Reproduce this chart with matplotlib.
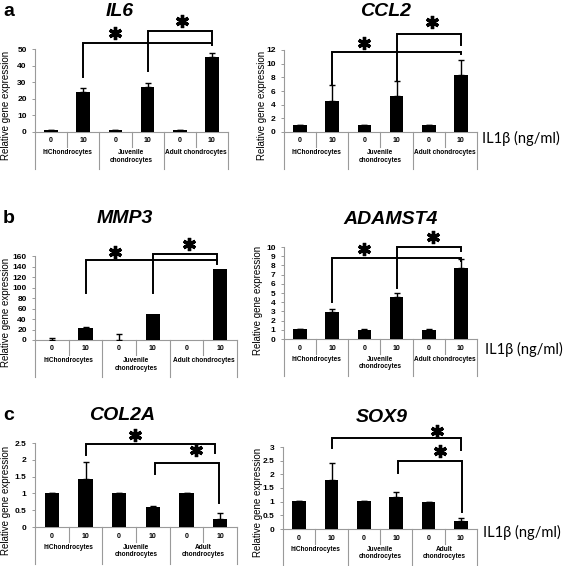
import numpy as np
import matplotlib
matplotlib.use("Agg")
import matplotlib.pyplot as plt

plt.rcParams['font.family'] = ['Liberation Sans', 'DejaVu Sans']

W, H = 567, 566

# ---- data ----
doses = ["0", "10", "0", "10", "0", "10"]
groups_ab = ["hiChondrocytes", "Juvenile\nchondrocytes", "Adult chondrocytes"]
groups_c = ["hiChondrocytes", "Juvenile\nchondrocytes", "Adult\nchondrocytes"]

il6_vals = [1.0, 24.1, 1.0, 26.9, 1.0, 45.0]
il6_err = [0.1, 2.6, 0.1, 2.8, 0.1, 2.8]

ccl2_vals = [1.0, 4.6, 1.0, 5.2, 1.0, 8.3]
ccl2_err = [0.05, 2.3, 0.05, 2.2, 0.05, 2.3]

mmp3_vals = [0.8, 22.0, 0.8, 49.0, 0.3, 136.0]
mmp3_err = [2.5, 2.0, 10.0, 0.0, 0.0, 0.0]

adamts4_vals = [1.08, 2.96, 0.94, 4.55, 1.0, 7.76]
adamts4_err = [0.05, 0.3, 0.1, 0.45, 0.08, 0.95]

col2a_vals = [1.0, 1.43, 1.0, 0.6, 1.0, 0.23]
col2a_err = [0.01, 0.5, 0.01, 0.03, 0.01, 0.2]

sox9_vals = [1.02, 1.81, 1.02, 1.18, 0.97, 0.29]
sox9_err = [0.01, 0.6, 0.01, 0.16, 0.02, 0.1]

# significance brackets: (x_left, x_right, y_top, y_left_end, y_right_end)
il6_br = [(1, 5, 53.8, 33.3, 52.4), (3, 5, 60.8, 36.7, 55.0)]
il6_stars = [(2.0, 59.4), (4.07, 66.9)]
ccl2_br = [(1, 5, 11.66, 6.9, 11.4), (3, 5, 14.3, 7.4, 12.7)]
ccl2_stars = [(2.0, 13.0), (4.1, 16.1)]
mmp3_br = [(1, 4.9, 152, 90, 145), (3, 4.9, 164.5, 88.6, 150)]
mmp3_stars = [(1.87, 168), (4.07, 183.5)]
adamts4_br = [(1, 5, 8.84, 4.0, 8.5), (3, 5, 9.96, 5.5, 9.6)]
adamts4_stars = [(2.0, 9.8), (4.12, 11.05)]
col2a_br = [(1, 4.85, 2.48, 2.15, 2.2), (3.05, 4.96, 1.9, 1.58, 0.7)]
col2a_stars = [(2.48, 2.73), (4.27, 2.3)]
sox9_br = [(1, 5, 3.33, 2.96, 2.89), (3.06, 5.04, 2.49, 2.05, 0.62)]
sox9_stars = [(4.27, 3.59), (4.36, 2.87)]

fig = plt.figure(figsize=(W / 100, H / 100), dpi=100)
GRAY = "#9a9a9a"


def draw_panel(rect, vals, err, ymax, ystep, tick_fmt, groups, brackets, stars):
    x0, x1, ytop, ybot = rect
    ax = fig.add_axes([x0 / W, 1 - ybot / H, (x1 - x0) / W, (ybot - ytop) / H])
    hpx = ybot - ytop
    x = np.arange(6)
    ax.bar(x, vals, width=0.42, color="black", zorder=3)
    e = np.array(err)
    m = e > 0
    ax.errorbar(x[m], np.array(vals)[m], yerr=[np.zeros(m.sum()), e[m]], fmt="none",
                ecolor="black", elinewidth=1.0, capsize=2.2, capthick=1.0, zorder=4)
    ax.set_xlim(-0.5, 5.5)
    ax.set_ylim(0, ymax)
    ticks = np.arange(0, ymax + ystep / 2, ystep)
    ax.set_yticks(ticks)
    ax.set_yticklabels([tick_fmt(t) for t in ticks], fontsize=6, fontweight="bold")
    ax.set_xticks([])
    for s in ["top", "right"]:
        ax.spines[s].set_visible(False)
    ax.spines["left"].set_color(GRAY)
    ax.spines["bottom"].set_color(GRAY)
    ax.spines["left"].set_linewidth(0.8)
    ax.spines["bottom"].set_linewidth(0.8)
    ax.tick_params(axis="y", length=2.5, width=0.7, color=GRAY, pad=3.5)
    ax.patch.set_visible(False)

    tr = ax.get_xaxis_transform()
    def fy(px):
        return -px / hpx
    # category table under the axis
    for b in [-0.5, 1.5, 3.5, 5.5]:
        ax.plot([b, b], [0, fy(37)], color=GRAY, lw=0.8, transform=tr, clip_on=False)
    for b in [0.5, 2.5, 4.5]:
        ax.plot([b, b], [0, fy(15)], color=GRAY, lw=0.8, transform=tr, clip_on=False)
    for i, d in enumerate(doses):
        ax.text(i, fy(9), d, transform=tr, ha="center", va="center",
                fontsize=5, fontweight="bold")
    for g, name in enumerate(groups):
        ax.text(2 * g + 0.5, fy(17), name, transform=tr, ha="center", va="top",
                fontsize=4.7, fontweight="bold", linespacing=1.1)

    for xl, xr, yt, yl, yr in brackets:
        ax.plot([xl, xl, xr, xr], [yl, yt, yt, yr], color="black", lw=1.4,
                clip_on=False, solid_joinstyle="miter")
    for sx, sy in stars:
        ax.plot(sx, sy, marker=(6, 2, 0), ms=9.5, mew=2.4, color="black",
                clip_on=False, ls="none")
    return ax


def intfmt(t):
    return f"{int(round(t))}"


def halffmt(t):
    return f"{t:g}"


draw_panel((35, 228, 49, 132), il6_vals, il6_err, 50, 10, intfmt, groups_ab, il6_br, il6_stars)
draw_panel((284, 477, 50, 132), ccl2_vals, ccl2_err, 12, 2, intfmt, groups_ab, ccl2_br, ccl2_stars)
draw_panel((35, 237, 256, 340), mmp3_vals, mmp3_err, 160, 20, intfmt, groups_ab, mmp3_br, mmp3_stars)
draw_panel((284, 477, 247, 339), adamts4_vals, adamts4_err, 10, 1, intfmt, groups_ab, adamts4_br, adamts4_stars)
draw_panel((35, 237, 443, 527), col2a_vals, col2a_err, 2.5, 0.5, halffmt, groups_c, col2a_br, col2a_stars)
draw_panel((283, 477, 447, 529), sox9_vals, sox9_err, 3, 0.5, halffmt, groups_c, sox9_br, sox9_stars)


def ftext(xp, yp, s, **kw):
    fig.text(xp / W, 1 - yp / H, s, **kw)


# panel letters and gene titles
for lab, yp in [("a", 12), ("b", 218), ("c", 416)]:
    ftext(9, yp, lab, fontsize=14, fontweight="bold", ha="center", va="center")
titles = [("IL6", 120, 11), ("CCL2", 386, 11), ("MMP3", 125, 218),
          ("ADAMST4", 391, 219), ("COL2A", 122, 415), ("SOX9", 382, 418)]
for t, xp, yp in titles:
    ftext(xp, yp, t, fontsize=14, fontweight="bold", style="italic", ha="center", va="center")

# y labels
for xp, yp in [(6, 105), (262, 105), (6, 312), (258, 300), (6, 500), (258, 502)]:
    ftext(xp, yp, "Relative gene expression", fontsize=7, rotation=90,
          ha="center", va="center")

# IL1beta dose labels
for xp, yp in [(482, 138), (485, 349), (483, 532)]:
    ftext(xp, yp, "IL1β (ng/ml)", fontsize=10.5, ha="left", va="center",
          family=["Lato", "DejaVu Sans"])

fig.savefig("out.png", dpi=100)
